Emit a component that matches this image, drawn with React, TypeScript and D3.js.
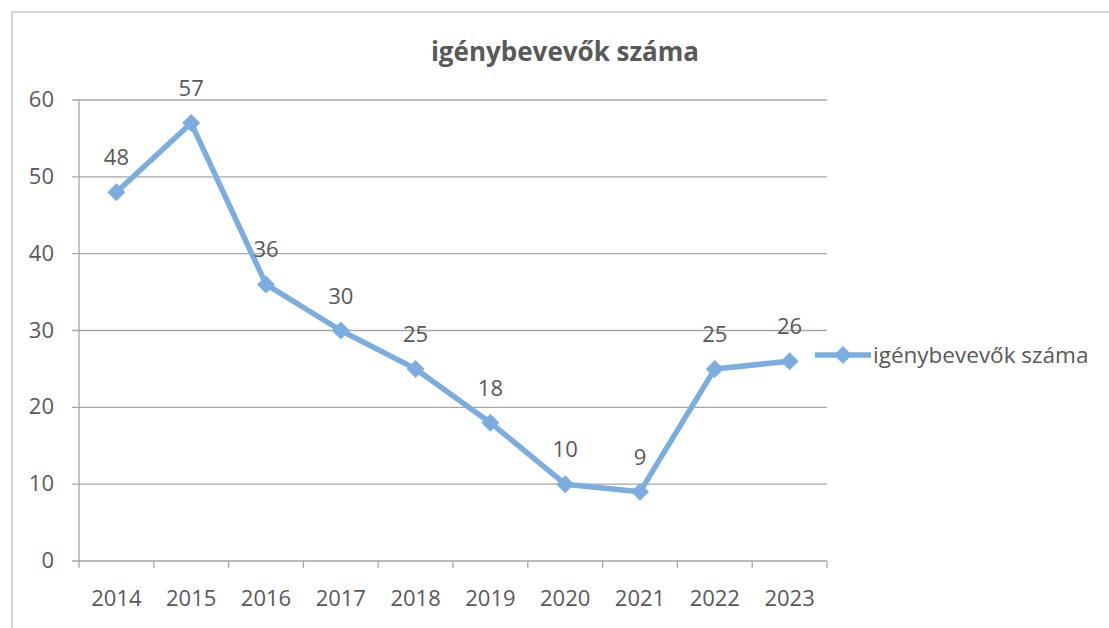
import React from "react";
import * as d3 from "d3";

const years = ["2014", "2015", "2016", "2017", "2018", "2019", "2020", "2021", "2022", "2023"];
const values = [48, 57, 36, 30, 25, 18, 10, 9, 25, 26];
const yTicks = [0, 10, 20, 30, 40, 50, 60];
const seriesName = "igénybevevők száma";
const title = "igénybevevők száma";

const W = 1109;
const H = 628;
const left = 79;
const right = 827;
const top = 100;
const bottom = 561;
const lineColor = "#7cade1";
const textColor = "#595959";
const gridColor = "#a6a6a6";
const font = "'Open Sans', 'Noto Sans', sans-serif";

function diamond(cx: number, cy: number, r: number) {
  return `M${cx},${cy - r}L${cx + r},${cy}L${cx},${cy + r}L${cx - r},${cy}Z`;
}

export default function App() {
  const x = d3.scaleBand<string>().domain(years).range([left, right]);
  const y = d3.scaleLinear().domain([0, 60]).range([bottom, top]);
  const line = d3
    .line<number>()
    .x((_, i) => (x(years[i]) as number) + x.bandwidth() / 2)
    .y((d) => y(d));
  const bounds = years.map((yr) => x(yr) as number).concat([right]);

  return (
    <svg width={W} height={H} style={{ position: "absolute", left: 0, top: 0, background: "#fff" }}>
      <rect x={0} y={0} width={W} height={H} fill="#fff" />
      <path d={`M12,${H}V12H${W}`} fill="none" stroke="#c8c8c8" strokeWidth={1.5} />
      <text x={565} y={61} textAnchor="middle" fontFamily={font} fontWeight="bold" fontSize={26} fill={textColor}>
        {title}
      </text>
      {yTicks.map((t) => (
        <g key={t}>
          <line x1={left - 7} x2={right} y1={y(t)} y2={y(t)} stroke={gridColor} strokeWidth={1.3} />
          <text x={54} y={y(t) + 7} textAnchor="end" fontFamily={font} fontSize={22} fill={textColor}>
            {t}
          </text>
        </g>
      ))}
      <line x1={left} x2={left} y1={top} y2={bottom} stroke={gridColor} strokeWidth={1.3} />
      {bounds.map((b, i) => (
        <line key={i} x1={b} x2={b} y1={bottom} y2={bottom + 7} stroke={gridColor} strokeWidth={1.3} />
      ))}
      {years.map((yr) => (
        <text
          key={yr}
          x={(x(yr) as number) + x.bandwidth() / 2}
          y={606}
          textAnchor="middle"
          fontFamily={font}
          fontSize={22}
          fill={textColor}
        >
          {yr}
        </text>
      ))}
      <path d={line(values) || ""} fill="none" stroke={lineColor} strokeWidth={5.5} strokeLinejoin="round" />
      {values.map((v, i) => {
        const cx = (x(years[i]) as number) + x.bandwidth() / 2;
        const cy = y(v);
        return (
          <g key={i}>
            <path d={diamond(cx, cy, 9)} fill={lineColor} />
            <text x={cx} y={cy - 27} textAnchor="middle" fontFamily={font} fontSize={22} fill={textColor}>
              {v}
            </text>
          </g>
        );
      })}
      <line x1={815} x2={871} y1={355} y2={355} stroke={lineColor} strokeWidth={5.5} />
      <path d={diamond(843, 355, 9)} fill={lineColor} />
      <text x={873} y={363} fontFamily={font} fontSize={22.5} fill={textColor}>
        {seriesName}
      </text>
    </svg>
  );
}
